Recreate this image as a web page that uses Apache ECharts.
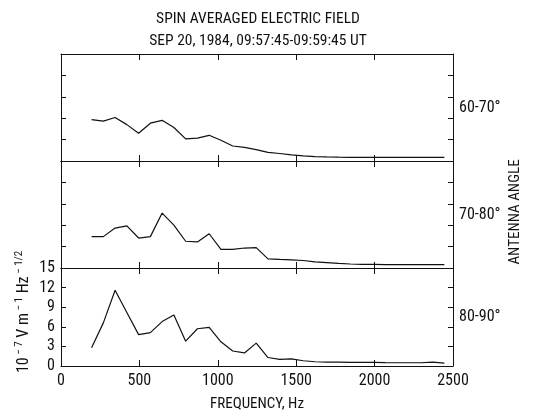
<!DOCTYPE html>
<html>
<head>
<meta charset="utf-8">
<script src="https://cdn.jsdelivr.net/npm/echarts@6/dist/echarts.min.js"></script>
<style>
html, body { margin: 0; padding: 0; background: #fff; }
#chart { width: 533px; height: 413px; }
</style>
</head>
<body>
<div id="chart"></div>
<script>
// frequency samples, Hz
const freqs = [195, 270, 345, 420, 495, 570, 645, 720, 795, 870, 945, 1020, 1095, 1170, 1245, 1320,
  1395, 1470, 1545, 1620, 1695, 1770, 1845, 1920, 1995, 2070, 2145, 2220, 2295, 2370, 2445]
// field, 10^-7 V m^-1 Hz^-1/2, per antenna angle
const angle6070 = [5.8, 5.6, 6.1, 5.1, 3.9, 5.3, 5.7, 4.7, 3.1, 3.2, 3.6, 2.9, 2.1, 1.9, 1.6, 1.2,
  1.05, 0.85, 0.72, 0.62, 0.57, 0.54, 0.52, 0.5, 0.5, 0.5, 0.5, 0.5, 0.5, 0.5, 0.5]
const angle7080 = [4.4, 4.4, 5.6, 5.9, 4.2, 4.4, 7.7, 6.0, 3.75, 3.65, 4.8, 2.6, 2.6, 2.8, 2.85, 1.27,
  1.2, 1.15, 1.05, 0.85, 0.75, 0.65, 0.56, 0.52, 0.5, 0.48, 0.48, 0.47, 0.47, 0.46, 0.46]
const angle8090 = [2.8, 6.6, 11.6, 8.2, 4.8, 5.1, 6.8, 7.8, 3.8, 5.7, 5.9, 3.7, 2.3, 2.0, 3.5, 1.3,
  1.0, 1.1, 0.8, 0.65, 0.6, 0.58, 0.56, 0.55, 0.55, 0.52, 0.5, 0.5, 0.5, 0.6, 0.45]
const panelNames = ['60-70°', '70-80°', '80-90°']
const xTicks = [0, 500, 1000, 1500, 2000, 2500]
const yTicks = [0, 3, 6, 9, 12, 15]

const font = "'Roboto Condensed', 'DejaVu Sans Condensed', sans-serif"
const ink = '#111'
const chart = echarts.init(document.getElementById('chart'))

// three stacked panels sharing the frequency axis
const tops = [54, 161, 268]
const heights = [107, 107, 108]
const grids = tops.map((t, i) => ({ left: 61, right: 80, top: t, height: heights[i] }))
const seriesData = [angle6070, angle7080, angle8090]

const xAxis = []
const yAxis = []
const series = []
for (let i = 0; i < 3; i++) {
  const last = i === 2
  xAxis.push({
    gridIndex: i, type: 'value', position: 'bottom',
    min: xTicks[0], max: xTicks[xTicks.length - 1], interval: 500,
    axisLine: { show: true, onZero: false, lineStyle: { color: ink, width: 1 } },
    axisTick: { show: true, inside: true, length: 6, lineStyle: { color: ink } },
    axisLabel: { show: last, color: ink, fontFamily: font, fontSize: 16, margin: 7, formatter: v => String(v) },
    splitLine: { show: false },
    name: last ? 'FREQUENCY, Hz' : '', nameLocation: 'middle', nameGap: 31,
    nameTextStyle: { color: ink, fontFamily: font, fontSize: 15 }
  })
  xAxis.push({
    gridIndex: i, type: 'value', position: 'top',
    min: xTicks[0], max: xTicks[xTicks.length - 1], interval: 500,
    axisLine: { show: true, onZero: false, lineStyle: { color: ink, width: 1 } },
    axisTick: { show: true, inside: true, length: 6, lineStyle: { color: ink } },
    axisLabel: { show: false },
    splitLine: { show: false }
  })
  yAxis.push({
    gridIndex: i, type: 'value', position: 'left',
    min: yTicks[0], max: yTicks[yTicks.length - 1], interval: 3,
    axisLine: { show: true, onZero: false, lineStyle: { color: ink, width: 1 } },
    axisTick: { show: true, inside: true, length: 5, lineStyle: { color: ink } },
    axisLabel: { show: last, color: ink, fontFamily: font, fontSize: 16, margin: 6 },
    splitLine: { show: false }
  })
  yAxis.push({
    gridIndex: i, type: 'value', position: 'right',
    min: yTicks[0], max: yTicks[yTicks.length - 1], interval: 3,
    axisLine: { show: true, onZero: false, lineStyle: { color: ink, width: 1 } },
    axisTick: { show: true, inside: true, length: 5, lineStyle: { color: ink } },
    axisLabel: { show: false },
    splitLine: { show: false },
    name: panelNames[i], nameLocation: 'middle', nameRotate: 0, nameGap: 6,
    nameTextStyle: { color: ink, fontFamily: font, fontSize: 16, align: 'left', verticalAlign: 'middle' }
  })
  series.push({
    type: 'line', xAxisIndex: i * 2, yAxisIndex: i * 2,
    data: freqs.map((f, k) => [f, seriesData[i][k]]),
    showSymbol: false, symbol: 'none', silent: true,
    lineStyle: { color: ink, width: 1.2 }
  })
}

chart.setOption({
  animation: false,
  backgroundColor: '#fff',
  title: {
    text: 'SPIN AVERAGED ELECTRIC FIELD',
    subtext: 'SEP 20, 1984, 09:57:45-09:59:45 UT',
    left: 253, top: 6, textAlign: 'center', itemGap: 6,
    textStyle: { color: ink, fontFamily: font, fontSize: 15.5, fontWeight: 'normal' },
    subtextStyle: { color: ink, fontFamily: font, fontSize: 15.5 }
  },
  grid: grids,
  xAxis: xAxis,
  yAxis: yAxis,
  series: series,
  graphic: [
    {
      type: 'text', x: 515, y: 212, rotation: Math.PI / 2,
      style: { text: 'ANTENNA ANGLE', fill: ink, font: '15px ' + font, align: 'center', verticalAlign: 'middle' }
    },
    {
      type: 'text', x: 24, y: 312, rotation: Math.PI / 2,
      style: {
        text: '10{s| − 7} V m{s| − 1} Hz{s| − 1/2}',
        fill: ink, font: '16px ' + font, align: 'center', verticalAlign: 'middle',
        rich: { s: { fontSize: 11, fontFamily: font, fill: ink, padding: [0, 0, 10, 0] } }
      }
    }
  ]
})
</script>
</body>
</html>
